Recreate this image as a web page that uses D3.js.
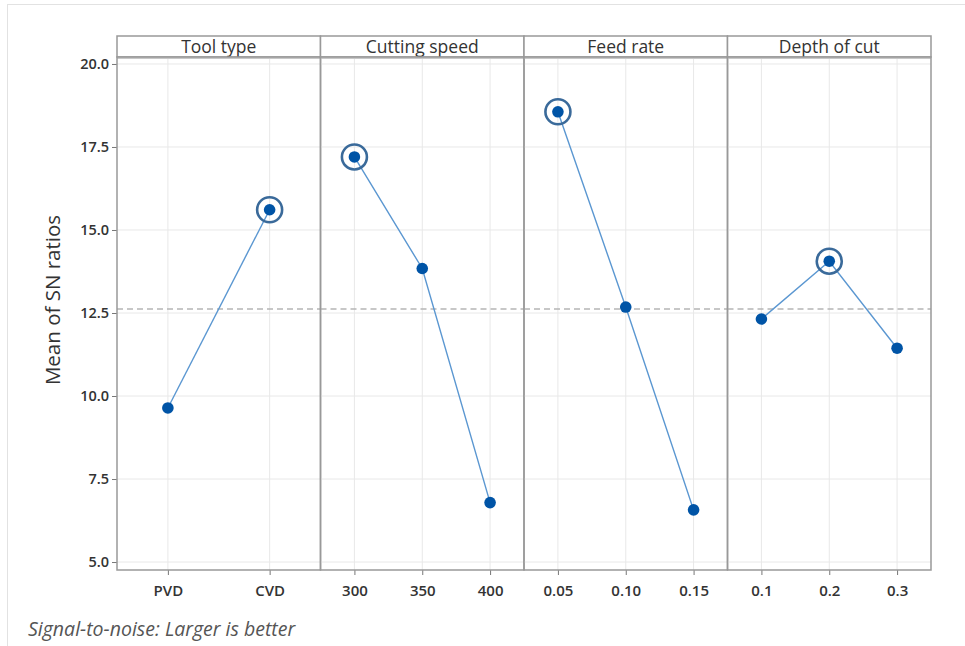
<!DOCTYPE html>
<html>
<head>
<meta charset="utf-8">
<script src="https://cdn.jsdelivr.net/npm/d3@7"></script>
<style>
  body { margin: 0; background: #fff; }
  text { font-family: "Open Sans", "Noto Sans", sans-serif; }
</style>
</head>
<body>
<div id="chart"></div>
<script>
// main effects plot for SN ratios

const factors = ["Tool type", "Cutting speed", "Feed rate", "Depth of cut"];
const toolLevels = ["PVD", "CVD"];
const toolMeans = [9.64, 15.61];
const speedLevels = ["300", "350", "400"];
const speedMeans = [17.20, 13.84, 6.79];
const feedLevels = ["0.05", "0.10", "0.15"];
const feedMeans = [18.56, 12.68, 6.57];
const depthLevels = ["0.1", "0.2", "0.3"];
const depthMeans = [12.32, 14.06, 11.44];
const yTicks = [5.0, 7.5, 10.0, 12.5, 15.0, 17.5, 20.0];
const grandMean = 12.62;

const panels = [
  { name: factors[0], levels: toolLevels, means: toolMeans },
  { name: factors[1], levels: speedLevels, means: speedMeans },
  { name: factors[2], levels: feedLevels, means: feedMeans },
  { name: factors[3], levels: depthLevels, means: depthMeans }
];

const width = 965, height = 646;
const margin = { left: 117, right: 34, top: 36, bottom: 76 };
const stripH = 21;
const plotTop = margin.top + stripH;
const plotBottom = height - margin.bottom;
const panelW = (width - margin.left - margin.right) / panels.length;

const svg = d3.select("#chart")
  .append("svg")
  .attr("width", width)
  .attr("height", height);

// outer light frame
svg.append("rect")
  .attr("x", 7.5).attr("y", 4.5)
  .attr("width", width + 10).attr("height", height + 10)
  .attr("fill", "none")
  .attr("stroke", "#e2e2e2");

const yScale = d3.scaleLinear()
  .domain([4.76, 20.21])
  .range([plotBottom, plotTop]);

// y axis
const yAxis = svg.append("g")
  .attr("transform", `translate(${margin.left},0)`)
  .call(d3.axisLeft(yScale).tickValues(yTicks).tickFormat(d3.format(".1f")).tickSize(5).tickPadding(3));
yAxis.select(".domain").remove();
yAxis.selectAll("line").attr("stroke", "#777");
yAxis.selectAll("text")
  .attr("font-size", "14.5px")
  .attr("font-weight", 600)
  .attr("fill", "#333");

svg.append("text")
  .attr("transform", `translate(60,300) rotate(-90)`)
  .attr("text-anchor", "middle")
  .attr("font-size", "20.5px")
  .attr("fill", "#333")
  .text("Mean of SN ratios");

panels.forEach(function(p, i) {
  const x0 = margin.left + i * panelW;
  const xScale = d3.scalePoint()
    .domain(p.levels)
    .range([x0, x0 + panelW])
    .padding(0.5);

  const g = svg.append("g");

  // grid
  g.selectAll(".hgrid")
    .data(yTicks)
    .enter()
    .append("line")
    .attr("x1", x0).attr("x2", x0 + panelW)
    .attr("y1", d => yScale(d)).attr("y2", d => yScale(d))
    .attr("stroke", "#e8e8e8");

  g.selectAll(".vgrid")
    .data(p.levels)
    .enter()
    .append("line")
    .attr("x1", d => xScale(d)).attr("x2", d => xScale(d))
    .attr("y1", plotTop).attr("y2", plotBottom)
    .attr("stroke", "#e8e8e8");

  // reference line at grand mean
  g.append("line")
    .attr("x1", x0).attr("x2", x0 + panelW)
    .attr("y1", yScale(grandMean)).attr("y2", yScale(grandMean))
    .attr("stroke", "#b5b5b5")
    .attr("stroke-width", 1.3)
    .attr("stroke-dasharray", "6,4");

  // x axis
  const xAxis = g.append("g")
    .attr("transform", `translate(0,${plotBottom})`)
    .call(d3.axisBottom(xScale).tickSize(5).tickPadding(10));
  xAxis.select(".domain").remove();
  xAxis.selectAll("line").attr("stroke", "#777");
  xAxis.selectAll("text")
    .attr("font-size", "15px")
    .attr("font-weight", 600)
    .attr("fill", "#333");

  // strip
  g.append("rect")
    .attr("x", x0).attr("y", margin.top)
    .attr("width", panelW).attr("height", stripH)
    .attr("fill", "#fff")
    .attr("stroke", "#999")
    .attr("stroke-width", 1.5);
  g.append("line")
    .attr("x1", x0).attr("x2", x0 + panelW)
    .attr("y1", plotTop + 1).attr("y2", plotTop + 1)
    .attr("stroke", "#c8c8c8")
    .attr("stroke-width", 2);
  g.append("text")
    .attr("x", x0 + panelW / 2)
    .attr("y", margin.top + 17)
    .attr("text-anchor", "middle")
    .attr("font-size", "17.5px")
    .attr("fill", "#333")
    .text(p.name);

  // panel frame
  g.append("rect")
    .attr("x", x0).attr("y", plotTop)
    .attr("width", panelW).attr("height", plotBottom - plotTop)
    .attr("fill", "none")
    .attr("stroke", "#999")
    .attr("stroke-width", 1.5);

  const pts = p.levels.map((l, j) => ({ level: l, mean: p.means[j] }));

  const line = d3.line()
    .x(d => xScale(d.level))
    .y(d => yScale(d.mean));

  g.append("path")
    .datum(pts)
    .attr("d", line)
    .attr("fill", "none")
    .attr("stroke", "#5b97d1")
    .attr("stroke-width", 1.4);

  // ring around the best level
  const best = pts[d3.maxIndex(pts, d => d.mean)];
  g.append("circle")
    .attr("cx", xScale(best.level))
    .attr("cy", yScale(best.mean))
    .attr("r", 12.5)
    .attr("fill", "none")
    .attr("stroke", "#3a6a9a")
    .attr("stroke-width", 2.6);

  g.selectAll(".dot")
    .data(pts)
    .enter()
    .append("circle")
    .attr("class", "dot")
    .attr("cx", d => xScale(d.level))
    .attr("cy", d => yScale(d.mean))
    .attr("r", 5.8)
    .attr("fill", "#0054a6");
});

svg.append("text")
  .attr("x", 28)
  .attr("y", 636)
  .attr("font-size", "19.5px")
  .attr("font-style", "italic")
  .attr("fill", "#555")
  .text("Signal-to-noise: Larger is better");
</script>
</body>
</html>
